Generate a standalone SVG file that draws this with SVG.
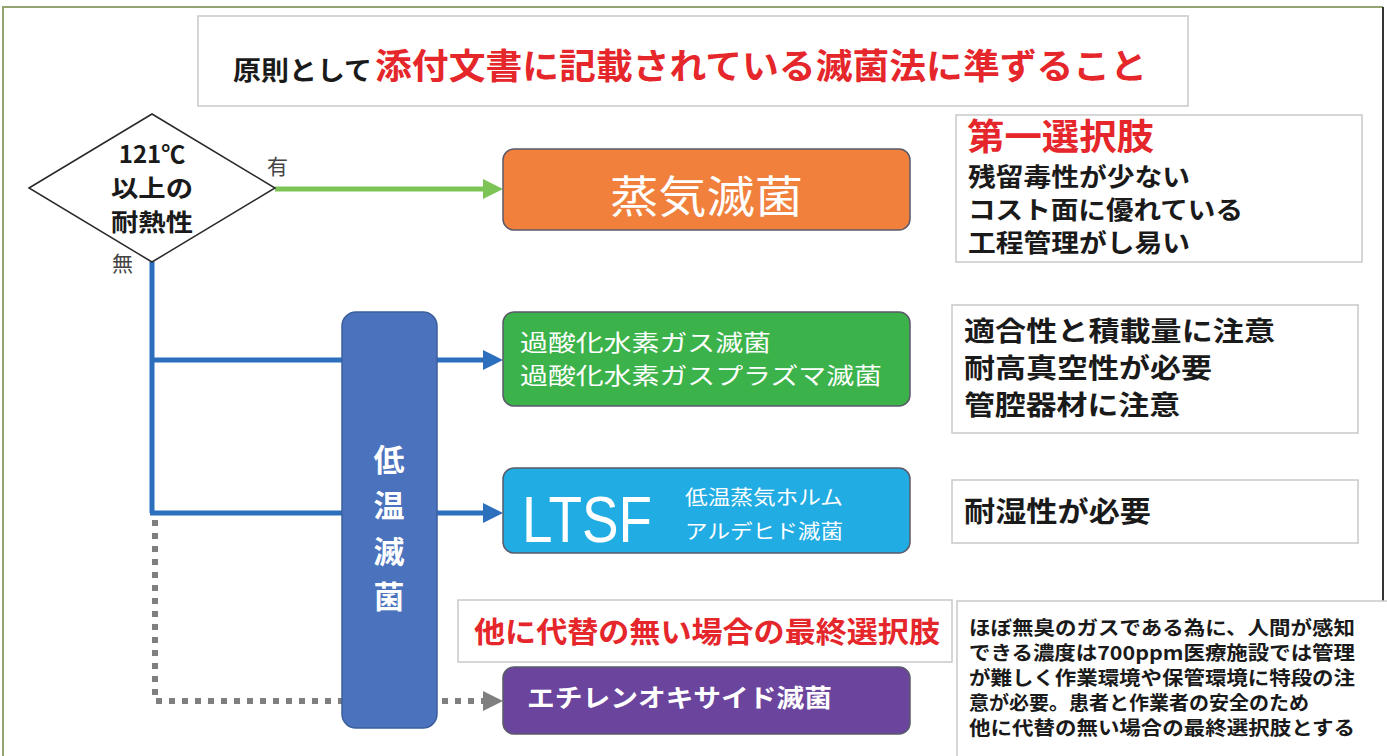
<svg xmlns="http://www.w3.org/2000/svg" width="1387" height="756" viewBox="0 0 1387 756">
<defs>
<style>
text{font-family:'Noto Sans CJK JP','Noto Sans CJK SC',sans-serif;}
.b{font-weight:700;}
.box{fill:#ffffff;stroke:#c9c9c9;stroke-width:1.5;}
.node{stroke:#5a5a6a;stroke-width:1.5;}
.wt{fill:#ffffff;}
.bk{fill:#1a1a1a;}
.rd{fill:#e5262b;}
.lbl{fill:#444444;font-weight:400;font-size:21px;}
.blue{fill:none;stroke:#2b6fbd;stroke-width:5;}
</style>
<marker id="ahG" markerUnits="userSpaceOnUse" markerWidth="20" markerHeight="20" refX="2" refY="10" orient="auto"><path d="M0,0 L20,10 L0,20 z" fill="#7cc456"/></marker>
<marker id="ahB" markerUnits="userSpaceOnUse" markerWidth="20" markerHeight="20" refX="2" refY="10" orient="auto"><path d="M0,0 L20,10 L0,20 z" fill="#2b6fbd"/></marker>
<marker id="ahK" markerUnits="userSpaceOnUse" markerWidth="20" markerHeight="20" refX="2" refY="10" orient="auto"><path d="M0,0 L20,10 L0,20 z" fill="#7f7f7f"/></marker>
</defs>
<rect width="1387" height="756" fill="#ffffff"/>
<!-- frame -->
<g id="frame">
<path d="M3,756 L3,7 L1383,7" fill="none" stroke="#93a372" stroke-width="2"/>
<path d="M1383,7 L1383,602" fill="none" stroke="#333333" stroke-width="2"/>
</g>
<!-- title -->
<g id="title">
<rect class="box" x="198" y="16" width="990" height="90"/>
<text x="233" y="80" class="b bk" font-size="26" textLength="139" lengthAdjust="spacingAndGlyphs">原則として</text>
<text x="375" y="79" class="b rd" font-size="35" textLength="772" lengthAdjust="spacingAndGlyphs">添付文書に記載されている滅菌法に準ずること</text>
</g>
<!-- connectors -->
<g id="connectors">
<line x1="275" y1="189" x2="485" y2="189" stroke="#7cc456" stroke-width="5" marker-end="url(#ahG)"/>
<path class="blue" d="M152,262 L152,513"/>
<path class="blue" d="M150,360 L485,360" marker-end="url(#ahB)"/>
<path class="blue" d="M150,513 L485,513" marker-end="url(#ahB)"/>
<path d="M155,520 L155,701 L485,701" fill="none" stroke="#7f7f7f" stroke-width="6" stroke-dasharray="6 7" marker-end="url(#ahK)"/>
<text x="267" y="174" class="lbl">有</text>
<text x="112" y="271" class="lbl">無</text>
</g>
<!-- decision -->
<g id="decision">
<path d="M29,188 L152,114 L275,188 L152,262 z" fill="#ffffff" stroke="#2a2a2a" stroke-width="1.5"/>
<text x="152" y="163" class="b bk" font-size="24" text-anchor="middle">121℃</text>
<text x="111" y="197" class="b bk" font-size="24" textLength="82" lengthAdjust="spacingAndGlyphs">以上の</text>
<text x="111" y="231" class="b bk" font-size="24" textLength="82" lengthAdjust="spacingAndGlyphs">耐熱性</text>
</g>
<!-- low temp -->
<g id="lowtemp">
<rect x="342" y="312" width="95" height="416" rx="14" fill="#4a72bd" stroke="#3d5f9e" stroke-width="1.5"/>
<text x="389" y="471" class="b wt" font-size="31" text-anchor="middle">低</text>
<text x="389" y="517" class="b wt" font-size="31" text-anchor="middle">温</text>
<text x="389" y="563" class="b wt" font-size="31" text-anchor="middle">滅</text>
<text x="389" y="608" class="b wt" font-size="31" text-anchor="middle">菌</text>
</g>
<!-- steam -->
<g id="steam">
<rect class="node" x="503" y="149" width="407" height="81" rx="11" fill="#f0803c"/>
<text x="610" y="213" class="wt" font-size="44" textLength="193" lengthAdjust="spacingAndGlyphs">蒸気滅菌</text>
</g>
<g id="note1">
<rect class="box" x="956" y="115" width="406" height="147"/>
<text x="967" y="150" class="b rd" font-size="36" textLength="187" lengthAdjust="spacingAndGlyphs">第一選択肢</text>
<text x="968" y="186" class="b bk" font-size="25" textLength="222" lengthAdjust="spacingAndGlyphs">残留毒性が少ない</text>
<text x="968" y="219" class="b bk" font-size="25" textLength="275" lengthAdjust="spacingAndGlyphs">コスト面に優れている</text>
<text x="968" y="252" class="b bk" font-size="25" textLength="222" lengthAdjust="spacingAndGlyphs">工程管理がし易い</text>
</g>
<!-- H2O2 -->
<g id="h2o2">
<rect class="node" x="503" y="312" width="407" height="94" rx="11" fill="#3cb24a"/>
<text x="520" y="351" class="wt" font-size="23" textLength="251" lengthAdjust="spacingAndGlyphs">過酸化水素ガス滅菌</text>
<text x="520" y="384" class="wt" font-size="23" textLength="362" lengthAdjust="spacingAndGlyphs">過酸化水素ガスプラズマ滅菌</text>
</g>
<g id="note2">
<rect class="box" x="952" y="305" width="406" height="128"/>
<text x="964" y="341" class="b bk" font-size="27" textLength="311" lengthAdjust="spacingAndGlyphs">適合性と積載量に注意</text>
<text x="964" y="378" class="b bk" font-size="27" textLength="248" lengthAdjust="spacingAndGlyphs">耐高真空性が必要</text>
<text x="964" y="415" class="b bk" font-size="27" textLength="216" lengthAdjust="spacingAndGlyphs">管腔器材に注意</text>
</g>
<!-- LTSF -->
<g id="ltsf">
<rect class="node" x="503" y="468" width="407" height="85" rx="11" fill="#21ace3"/>
<text x="522" y="542" style="font-family:'Liberation Sans',sans-serif" class="wt" font-size="64" textLength="130" lengthAdjust="spacingAndGlyphs">LTSF</text>
<text x="685" y="505" class="wt" font-size="20" textLength="158" lengthAdjust="spacingAndGlyphs">低温蒸気ホルム</text>
<text x="685" y="539" class="wt" font-size="20" textLength="158" lengthAdjust="spacingAndGlyphs">アルデヒド滅菌</text>
</g>
<g id="note3">
<rect class="box" x="952" y="480" width="406" height="63"/>
<text x="964" y="522" class="b bk" font-size="28" textLength="187" lengthAdjust="spacingAndGlyphs">耐湿性が必要</text>
</g>
<!-- last resort -->
<g id="lastlabel">
<rect class="box" x="458" y="600" width="494" height="62"/>
<text x="474" y="643" class="b rd" font-size="29" textLength="466" lengthAdjust="spacingAndGlyphs">他に代替の無い場合の最終選択肢</text>
</g>
<g id="eo">
<rect class="node" x="503" y="667" width="407" height="67" rx="11" fill="#6b459d"/>
<text x="527" y="707" class="b wt" font-size="25" textLength="305" lengthAdjust="spacingAndGlyphs">エチレンオキサイド滅菌</text>
</g>
<g id="note4">
<rect class="box" x="957" y="601" width="432" height="160"/>
<text x="969" y="635" class="b bk" font-size="19" textLength="386" lengthAdjust="spacingAndGlyphs">ほぼ無臭のガスである為に、人間が感知</text>
<text x="969" y="660" class="b bk" font-size="19" textLength="386" lengthAdjust="spacingAndGlyphs">できる濃度は700ppm医療施設では管理</text>
<text x="969" y="685" class="b bk" font-size="19" textLength="386" lengthAdjust="spacingAndGlyphs">が難しく作業環境や保管環境に特段の注</text>
<text x="969" y="710" class="b bk" font-size="19" textLength="340" lengthAdjust="spacingAndGlyphs">意が必要。患者と作業者の安全のため</text>
<text x="969" y="735" class="b bk" font-size="19" textLength="386" lengthAdjust="spacingAndGlyphs">他に代替の無い場合の最終選択肢とする</text>
</g>
</svg>
